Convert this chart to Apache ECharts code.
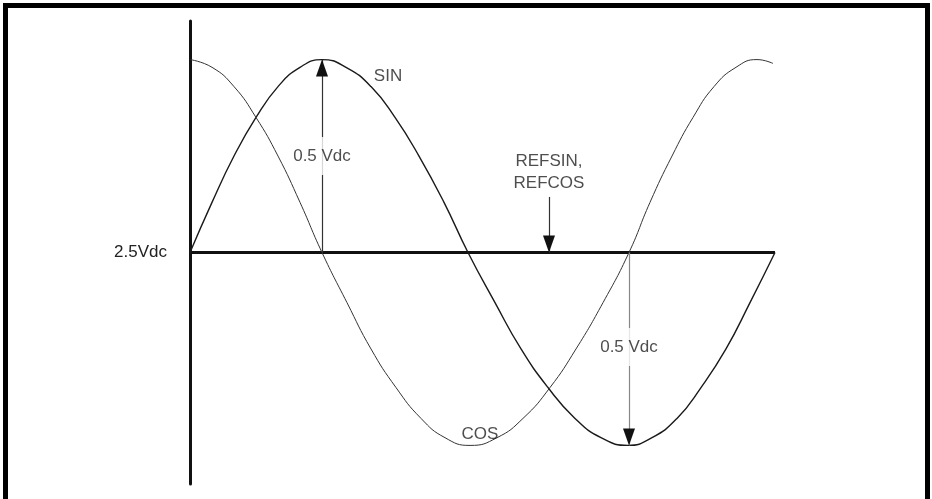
<!DOCTYPE html>
<html>
<head>
<meta charset="utf-8">
<script src="https://cdn.jsdelivr.net/npm/echarts@6/dist/echarts.min.js"></script>
<style>
    html, body { margin: 0; padding: 0; background: #fff; overflow: hidden; }
    #frame {
        position: absolute; left: 3px; top: 3px; width: 917px; height: 600px;
        border: 5px solid #000; border-bottom: none;
    }
    #chart { position: absolute; left: 0; top: 0; width: 932px; height: 499px; }
</style>
</head>
<body>
<div id="frame"></div>
<div id="chart"></div>
<script>
// x: horizontal position along the trace (arbitrary units), v: volts
const sinX = [0, 22, 44, 66, 88, 110, 132, 156, 181, 205, 229, 254, 278, 305, 331, 358, 385, 411, 438, 462, 487, 511, 536, 560, 585];
const sinV = [2.50, 2.63, 2.75, 2.85, 2.93, 2.98, 3.00, 2.98, 2.93, 2.85, 2.75, 2.63, 2.50, 2.37, 2.25, 2.15, 2.07, 2.02, 2.00, 2.02, 2.07, 2.15, 2.25, 2.37, 2.50];
const cosX = [0, 22, 44, 66, 88, 110, 132, 157, 181, 206, 231, 255, 280, 307, 333, 360, 386, 413, 439, 460, 482, 503, 524, 546, 567, 583];
const cosV = [3.00, 2.98, 2.93, 2.85, 2.75, 2.63, 2.50, 2.37, 2.25, 2.15, 2.07, 2.02, 2.00, 2.02, 2.07, 2.15, 2.25, 2.37, 2.50, 2.63, 2.75, 2.85, 2.93, 2.98, 3.00, 2.99];
const refX = [0, 585];
const refV = [2.5, 2.5];
const refLevel = 2.5;

// arrows: [x, fromV, toV (tip), shaft colour]
const arrows = [
    [132, 2.5, 3.0, '#333'],
    [439, 2.5, 2.0, '#888'],
    [359, 2.644, 2.5, '#333']
];
// text notes: [x, v, text, cuts the arrow shaft]
const notes = [
    [198, 2.956, 'SIN', false],
    [132, 2.75, '0.5 Vdc', true],
    [359, 2.709, 'REFSIN,\nREFCOS', false],
    [439, 2.255, '0.5 Vdc', true],
    [290, 2.029, 'COS', false]
];

const font = '"Liberation Sans", Arial, sans-serif';
const chart = echarts.init(document.getElementById('chart'));

const option = {
    animation: false,
    grid: { left: 190, right: 157, top: 21, bottom: 15 },
    xAxis: { type: 'value', min: 0, max: 585, show: false },
    yAxis: {
        type: 'value', min: 1.9, max: 3.1,
        splitLine: { show: false },
        axisTick: { show: false },
        axisLine: { show: true, lineStyle: { color: '#111', width: 3 } },
        axisLabel: {
            customValues: [refLevel],
            formatter: '{value}Vdc',
            margin: 23,
            color: '#222',
            fontSize: 17,
            fontFamily: font
        }
    },
    series: [
        {
            name: 'REF', type: 'line', symbol: 'none', silent: true,
            data: refX.map((x, i) => [x, refV[i]]),
            lineStyle: { color: '#111', width: 3 },
            markLine: {
                silent: true,
                animation: false,
                symbol: 'none',
                label: { show: false },
                data: arrows.map(a => [
                    { coord: [a[0], a[1]], lineStyle: { color: a[3], width: 1.2, type: 'solid' } },
                    { coord: [a[0], a[2]] }
                ])
            },
            markPoint: {
                silent: true,
                animation: false,
                label: { show: false },
                data: arrows.map(a => {
                    const up = a[2] > a[1];
                    return {
                        coord: [a[0], a[2]],
                        symbol: 'triangle',
                        symbolSize: [12, 17],
                        symbolRotate: up ? 0 : 180,
                        symbolOffset: [0, up ? 8.5 : -8.5],
                        itemStyle: { color: '#111' }
                    };
                })
            }
        },
        {
            name: 'SIN', type: 'line', symbol: 'none', smooth: true, silent: true,
            data: sinX.map((x, i) => [x, sinV[i]]),
            lineStyle: { color: '#1a1a1a', width: 1.4 }
        },
        {
            name: 'COS', type: 'line', symbol: 'none', smooth: true, silent: true,
            data: cosX.map((x, i) => [x, cosV[i]]),
            lineStyle: { color: '#333', width: 1 }
        },
        {
            name: 'notes', type: 'scatter', symbolSize: 0, silent: true, z: 10,
            data: notes.map(n => ({
                value: [n[0], n[1]],
                label: {
                    show: true,
                    position: 'inside',
                    formatter: n[2],
                    color: '#222',
                    fontSize: 17,
                    lineHeight: 22,
                    fontFamily: font,
                    backgroundColor: n[3] ? '#fff' : 'transparent',
                    padding: n[3] ? [8, 1] : 0
                }
            }))
        }
    ]
};
chart.setOption(option);
</script>
</body>
</html>
